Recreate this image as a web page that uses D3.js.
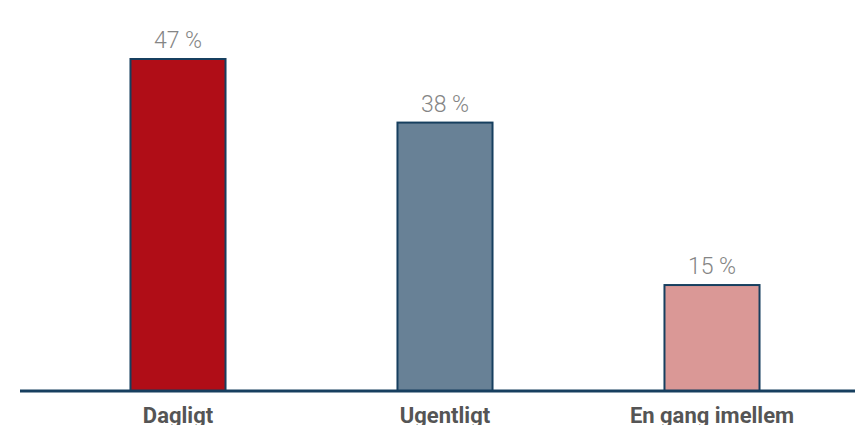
<!DOCTYPE html>
<html>
<head>
<meta charset="utf-8">
<script src="https://cdn.jsdelivr.net/npm/d3@7"></script>
<style>
  body { margin: 0; background: #fff; }
  svg { display: block; }
</style>
</head>
<body>
<div id="chart"></div>
<script>
var categories = ['Dagligt', 'Ugentligt', 'En gang imellem'];
var values = [47, 38, 15];
var colors = ['#b00d17', '#688196', '#da9896'];

var width = 855, height = 425;
var baseY = 391;

var svg = d3.select('#chart').append('svg')
  .attr('width', width)
  .attr('height', height);

var x = d3.scaleBand()
  .domain(categories)
  .range([44.5, 845.5])
  .paddingInner(0.644)
  .paddingOuter(0.322);

var y = d3.scaleLinear()
  .domain([0, 47])
  .range([baseY, 59]);

// bars
svg.selectAll('.bar')
  .data(values)
  .enter().append('rect')
  .attr('class', 'bar')
  .attr('x', function(d, i) { return x(categories[i]); })
  .attr('y', function(d) { return y(d); })
  .attr('width', x.bandwidth())
  .attr('height', function(d) { return baseY - y(d); })
  .attr('fill', function(d, i) { return colors[i]; })
  .attr('stroke', '#173f5f')
  .attr('stroke-width', 2);

// value labels
svg.selectAll('.val')
  .data(values)
  .enter().append('text')
  .attr('class', 'val')
  .attr('x', function(d, i) { return x(categories[i]) + x.bandwidth() / 2; })
  .attr('y', function(d) { return y(d) - 11; })
  .attr('text-anchor', 'middle')
  .style('font-family', 'Roboto, sans-serif')
  .style('font-weight', 300)
  .style('font-size', '23px')
  .style('fill', '#858585')
  .text(function(d) { return d + ' %'; });

// baseline
svg.append('line')
  .attr('x1', 20).attr('x2', width)
  .attr('y1', baseY).attr('y2', baseY)
  .attr('stroke', '#173f5f')
  .attr('stroke-width', 3);

// category labels
svg.selectAll('.cat')
  .data(categories)
  .enter().append('text')
  .attr('class', 'cat')
  .attr('x', function(d) { return x(d) + x.bandwidth() / 2; })
  .attr('y', 423)
  .attr('text-anchor', 'middle')
  .style('font-family', 'Roboto, sans-serif')
  .style('font-weight', 'bold')
  .style('font-size', '22px')
  .style('fill', '#555')
  .text(function(d) { return d; });
</script>
</body>
</html>
